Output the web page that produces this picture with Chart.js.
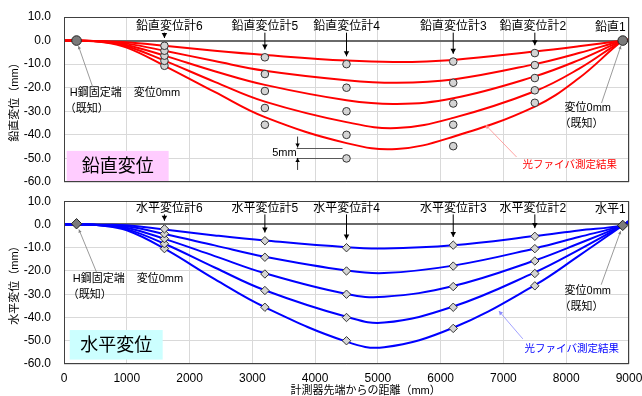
<!DOCTYPE html>
<html>
<head>
<meta charset="utf-8">
<script src="https://cdn.jsdelivr.net/npm/chart.js@4.4.1/dist/chart.umd.min.js"></script>
<style>
  html, body { margin: 0; padding: 0; background: #fff; overflow: hidden; width: 642px; height: 396px; }
  canvas { position: absolute; left: 0; }
  #topChart { top: 0; }
  #bottomChart { top: 195px; }
</style>
</head>
<body>
<canvas id="topChart" width="642" height="196"></canvas>
<canvas id="bottomChart" width="642" height="210"></canvas>
<script>
// Fiber-optic displacement vs. gauge readings - vertical (top) and horizontal (bottom)

// Vertical displacement, fiber measurement (5 load steps), sampled at vertFiberX (mm)
const vertFiberX = [0, 200, 600, 1000, 1600, 2400, 3200, 4500, 5300, 6200, 7500, 8200, 8900, 9000];
const vertFiber1 = [0, 0, -0.2, -0.7, -2.2, -4.3, -6.1, -8.5, -9.1, -8.2, -4.6, -2.4, 0, 0.4];
const vertFiber2 = [0, 0, -0.3, -1.3, -4.3, -8.7, -12.8, -16.8, -17.9, -16.5, -10.0, -5.3, 0, 0.4];
const vertFiber3 = [0, 0, -0.4, -1.9, -6.4, -13.0, -18.8, -25.3, -26.9, -24.5, -15.2, -8.3, 0, 0.4];
const vertFiber4 = [0, 0, -0.5, -2.4, -8.5, -17.5, -25.9, -34.6, -37.1, -32.8, -21.5, -12.0, 0, 0.4];
const vertFiber5 = [0, 0, -0.6, -3.0, -10.7, -21.8, -32.5, -43.5, -46.0, -40.8, -28.0, -16.0, 0, 0.4];

// Horizontal displacement, fiber measurement (5 load steps), sampled at horzFiberX (mm)
const horzFiberX = [0, 200, 600, 1000, 1600, 2400, 3200, 4500, 5100, 6200, 7500, 8200, 8900, 9000];
const horzFiber1 = [0, 0, -0.1, -0.3, -2.2, -4.7, -6.9, -9.8, -10.3, -8.9, -5.0, -2.6, -0.4, 1.5];
const horzFiber2 = [0, 0, -0.2, -0.8, -4.1, -9.0, -13.9, -19.8, -20.9, -17.7, -10.3, -5.4, -0.4, 1.5];
const horzFiber3 = [0, 0, -0.3, -1.4, -6.2, -13.6, -21.0, -29.9, -31.1, -26.5, -15.5, -8.2, -0.4, 1.5];
const horzFiber4 = [0, 0, -0.4, -2.0, -8.3, -18.5, -28.3, -39.7, -42.2, -35.3, -20.6, -10.9, -0.4, 1.5];
const horzFiber5 = [0, 0, -0.5, -2.5, -10.4, -23.5, -35.6, -50.4, -52.8, -44.4, -26.1, -13.5, -0.4, 1.5];

// Displacement gauges 6..2
const gaugeX = [1600, 3200, 4500, 6200, 7500];
const vertGaugeNames = ['鉛直変位計6', '鉛直変位計5', '鉛直変位計4', '鉛直変位計3', '鉛直変位計2'];
const horzGaugeNames = ['水平変位計6', '水平変位計5', '水平変位計4', '水平変位計3', '水平変位計2'];

const vertGauge1 = [-2.2, -7.1, -10.0, -8.9, -5.3];
const vertGauge2 = [-4.3, -14.2, -20.0, -17.9, -10.4];
const vertGauge3 = [-6.4, -21.4, -30.0, -26.7, -15.9];
const vertGauge4 = [-8.6, -28.6, -40.0, -35.7, -21.1];
const vertGauge5 = [-10.7, -35.7, -50.0, -44.8, -26.4];

const horzGauge1 = [-1.9, -7.0, -10.0, -8.9, -5.1];
const horzGauge2 = [-4.0, -14.1, -20.0, -17.9, -10.4];
const horzGauge3 = [-6.1, -21.3, -30.0, -26.7, -15.7];
const horzGauge4 = [-8.3, -28.4, -40.0, -35.6, -21.1];
const horzGauge5 = [-10.4, -35.6, -50.0, -44.7, -26.4];

// Known points: H-steel fixed end and gauge 1
const knownX = [200, 8900];
const vertKnown = [0, 0];
const horzKnown = [0.3, -0.4];

const xTicks = [0, 1000, 2000, 3000, 4000, 5000, 6000, 7000, 8000, 9000];
const yTicks = [10, 0, -10, -20, -30, -40, -50, -60];

const FONT = "'Liberation Sans', 'Noto Sans CJK JP', sans-serif";
Chart.defaults.font.family = FONT;
Chart.defaults.color = '#000';
Chart.defaults.animation = false;

function drawText(ctx, str, x, y, size, color, align) {
  ctx.font = size + 'px ' + FONT;
  ctx.fillStyle = color || '#000';
  ctx.textAlign = align || 'left';
  ctx.textBaseline = 'middle';
  ctx.fillText(str, x, y);
}

function drawArrow(ctx, x1, y1, x2, y2, color, width, head) {
  ctx.strokeStyle = color;
  ctx.fillStyle = color;
  ctx.lineWidth = width;
  ctx.beginPath();
  ctx.moveTo(x1, y1);
  ctx.lineTo(x2, y2);
  ctx.stroke();
  if (!head) return;
  const a = Math.atan2(y2 - y1, x2 - x1);
  const bx = x2 - head * Math.cos(a), by = y2 - head * Math.sin(a);
  const w = head * 0.55;
  ctx.beginPath();
  ctx.moveTo(x2, y2);
  ctx.lineTo(bx + w * Math.sin(a), by - w * Math.cos(a));
  ctx.lineTo(bx - w * Math.sin(a), by + w * Math.cos(a));
  ctx.closePath();
  ctx.fill();
}

// leader that stops at the edge of a marker
function drawLeader(ctx, x1, y1, x2, y2, color, gap, head) {
  const d = Math.hypot(x2 - x1, y2 - y1);
  const ex = x2 - (x2 - x1) / d * gap, ey = y2 - (y2 - y1) / d * gap;
  drawArrow(ctx, x1, y1, ex, ey, color, 0.8, head);
}

const notesPlugin = {
  id: 'notes',
  beforeDatasetsDraw(chart, args, n) {
    const { ctx, scales: { x, y } } = chart;
    ctx.save();
    const x0 = x.getPixelForValue(n.box[0]), x1 = x.getPixelForValue(n.box[1]);
    const y0 = y.getPixelForValue(n.box[2]), y1 = y.getPixelForValue(n.box[3]);
    ctx.fillStyle = n.boxColor;
    ctx.fillRect(x0, y0, x1 - x0, y1 - y0);
    drawText(ctx, n.boxText, (x0 + x1) / 2, (y0 + y1) / 2 + 1, 18, '#000', 'center');
    ctx.restore();
  },
  afterDraw(chart, args, n) {
    const { ctx, chartArea: a, scales: { x, y } } = chart;
    const X = v => x.getPixelForValue(v), Y = v => y.getPixelForValue(v);
    ctx.save();

    // plot frame
    ctx.strokeStyle = '#404040';
    ctx.lineWidth = 1;
    ctx.strokeRect(Math.round(a.left) + 0.5, Math.round(a.top) + 0.5,
      Math.round(a.right - a.left) - 1, Math.round(a.bottom - a.top) - 1);

    // gauge names with arrows
    const labY = Y(n.labelY);
    n.labels.forEach((name, i) => {
      const gx = X(gaugeX[i]);
      drawText(ctx, name, gx + n.labelDx[i], labY, 12, '#000', 'center');
      drawArrow(ctx, gx, labY + 6, gx, Y(n.first[i]) - n.radius - 4, '#000', 1, 5);
    });
    drawText(ctx, n.endName, X(knownX[1]) + 3, Y(n.endNameY), 12, '#000', 'right');

    // known points (fixed end / gauge 1)
    const lx = X(n.leftText[0]), ly = Y(n.leftText[1]);
    drawText(ctx, 'H鋼固定端', lx, ly, 11, '#000', 'left');
    drawText(ctx, '変位0mm', lx + 64, ly, 11, '#000', 'left');
    drawText(ctx, '（既知）', lx - 5, ly + 16, 11, '#000', 'left');
    drawLeader(ctx, X(n.leftFrom[0]), Y(n.leftFrom[1]), X(knownX[0]), Y(n.known[0]), '#808080', n.radius + 2, 3);

    const rx = X(n.rightText[0]), ry = Y(n.rightText[1]);
    drawText(ctx, '変位0mm', rx, ry, 11, '#000', 'left');
    drawText(ctx, '（既知）', rx - 5, ry + 16, 11, '#000', 'left');
    drawLeader(ctx, X(n.rightFrom[0]), Y(n.rightFrom[1]), X(knownX[1]), Y(n.known[1]), '#808080', n.radius + 2, 3);

    // fiber result note
    drawText(ctx, '光ファイバ測定結果', X(n.fiberText[0]), Y(n.fiberText[1]), 10.5, n.color, 'left');
    drawArrow(ctx, X(n.fiberFrom[0]), Y(n.fiberFrom[1]), X(n.fiberTo[0]), Y(n.fiberTo[1]), n.leaderColor, 0.8, 4);

    // x axis title (bottom chart only)
    if (n.xTitle) {
      drawText(ctx, n.xTitle, X(n.xTitleAt), a.bottom + 27, 11, '#000', 'center');
    }

    // 5mm gap annotation
    if (n.fiveMm) {
      const gx = X(gaugeX[2]);
      const sx = X(n.fiveMm.x);
      const yu = Y(n.fiveMm.upper), yl = Y(n.fiveMm.lower);
      ctx.strokeStyle = '#595959';
      ctx.lineWidth = 1;
      ctx.beginPath();
      ctx.moveTo(sx, Math.round(yu) + 0.5); ctx.lineTo(gx - 4, Math.round(yu) + 0.5);
      ctx.moveTo(sx, Math.round(yl) + 0.5); ctx.lineTo(gx - 4, Math.round(yl) + 0.5);
      ctx.stroke();
      drawArrow(ctx, sx + 1, yu - 11, sx + 1, yu, '#000', 0.8, 4);
      drawArrow(ctx, sx + 1, yl + 12, sx + 1, yl, '#000', 0.8, 4);
      drawText(ctx, '5mm', sx, (yu + yl) / 2, 11, '#000', 'right');
    }
    ctx.restore();
  }
};

function buildChart(canvasId, cfg) {
  const datasets = [];
  cfg.fibers.forEach(vals => datasets.push({
    data: cfg.fiberX.map((fx, i) => ({ x: fx, y: vals[i] })),
    showLine: true,
    borderColor: cfg.lineColor,
    borderWidth: 2,
    pointRadius: 0,
    tension: 0.4,
    fill: false,
    order: 2
  }));
  cfg.gauges.forEach(vals => datasets.push({
    data: gaugeX.map((g, i) => ({ x: g, y: vals[i] })),
    pointStyle: cfg.markerStyle,
    pointRadius: cfg.markerRadius,
    backgroundColor: '#d4d4d4',
    borderColor: '#333333',
    borderWidth: 1,
    order: 1
  }));
  datasets.push({
    data: knownX.map((kx, i) => ({ x: kx, y: cfg.known[i] })),
    pointStyle: cfg.markerStyle,
    pointRadius: cfg.markerRadius + 1,
    backgroundColor: '#7a7a7a',
    borderColor: '#222222',
    borderWidth: 1,
    order: 0
  });

  return new Chart(document.getElementById(canvasId), {
    type: 'scatter',
    data: { datasets },
    plugins: [notesPlugin],
    options: {
      responsive: false,
      animation: false,
      layout: { padding: { left: 0, top: cfg.padTop, right: 13, bottom: 0 } },
      plugins: {
        legend: { display: false },
        tooltip: { enabled: false },
        notes: cfg.notes
      },
      scales: {
        x: {
          type: 'linear',
          min: 0,
          max: 9000,
          afterBuildTicks: s => { s.ticks = xTicks.map(v => ({ value: v })); },
          ticks: { display: cfg.showXTicks, padding: 7, font: { size: 12 }, maxRotation: 0, autoSkip: false, callback: v => String(v) },
          grid: { color: '#d9d9d9', drawTicks: false },
          border: { display: false },
          afterFit: s => { s.height = cfg.xHeight; s.paddingLeft = 0; s.paddingRight = 0; }
        },
        y: {
          min: -60,
          max: 10,
          afterBuildTicks: s => { s.ticks = yTicks.map(v => ({ value: v })); },
          ticks: { padding: 13, font: { size: 12 }, callback: v => v.toFixed(1) },
          grid: {
            color: c => (c.tick && c.tick.value === 0 ? '#6a6a6a' : '#d9d9d9'),
            lineWidth: c => (c.tick && c.tick.value === 0 ? 2 : 1),
            drawTicks: false
          },
          border: { display: false },
          title: { display: true, text: cfg.yTitle, font: { size: 11 }, padding: { top: 8, bottom: 0 } },
          afterFit: s => { s.width = 64; s.paddingTop = 0; s.paddingBottom = 0; }
        }
      }
    }
  });
}

buildChart('topChart', {
  fiberX: vertFiberX,
  fibers: [vertFiber1, vertFiber2, vertFiber3, vertFiber4, vertFiber5],
  gauges: [vertGauge1, vertGauge2, vertGauge3, vertGauge4, vertGauge5],
  known: vertKnown,
  lineColor: '#ff0000',
  markerStyle: 'circle',
  markerRadius: 3.8,
  yTitle: '鉛直変位（mm）',
  padTop: 17,
  xHeight: 14,
  showXTicks: false,
  notes: {
    box: [43, 1667, -46.8, -60], boxColor: '#ffccff', boxText: '鉛直変位',
    labels: vertGaugeNames, labelY: 5.9, labelDx: [5, 0, 0, 0, -2],
    first: vertGauge1, radius: 3.8, known: vertKnown,
    endName: '鉛直1', endNameY: 5.3,
    leftText: [91, -22.2], leftFrom: [457, -19.7],
    rightText: [7973, -28.6], rightFrom: [8562, -26.5],
    fiberText: [7304, -52.8], fiberFrom: [7209, -49.4], fiberTo: [6715, -35.8],
    color: '#ff0000', leaderColor: '#ff8c8c',
    fiveMm: { x: 3705, upper: -45.4, lower: -49.8 }
  }
});

buildChart('bottomChart', {
  fiberX: horzFiberX,
  fibers: [horzFiber1, horzFiber2, horzFiber3, horzFiber4, horzFiber5],
  gauges: [horzGauge1, horzGauge2, horzGauge3, horzGauge4, horzGauge5],
  known: horzKnown,
  lineColor: '#0000ff',
  markerStyle: 'rectRot',
  markerRadius: 4.2,
  yTitle: '水平変位（mm）',
  padTop: 5,
  xHeight: 41,
  showXTicks: true,
  notes: {
    box: [91, 1572, -45.4, -58.1], boxColor: '#ccffff', boxText: '水平変位',
    labels: horzGaugeNames, labelY: 6.9, labelDx: [5, 0, 0, 0, -2],
    first: horzGauge1, radius: 4.2, known: horzKnown,
    endName: '水平1', endNameY: 6.4,
    leftText: [139, -23.3], leftFrom: [516, -20.4],
    rightText: [7973, -28.8], rightFrom: [8557, -25.9],
    fiberText: [7336, -53.5], fiberFrom: [7309, -49.2], fiberTo: [6927, -37.2],
    color: '#0000ff', leaderColor: '#8c8cff',
    xTitle: '計測器先端からの距離（mm）', xTitleAt: 4804
  }
});
</script>
</body>
</html>
